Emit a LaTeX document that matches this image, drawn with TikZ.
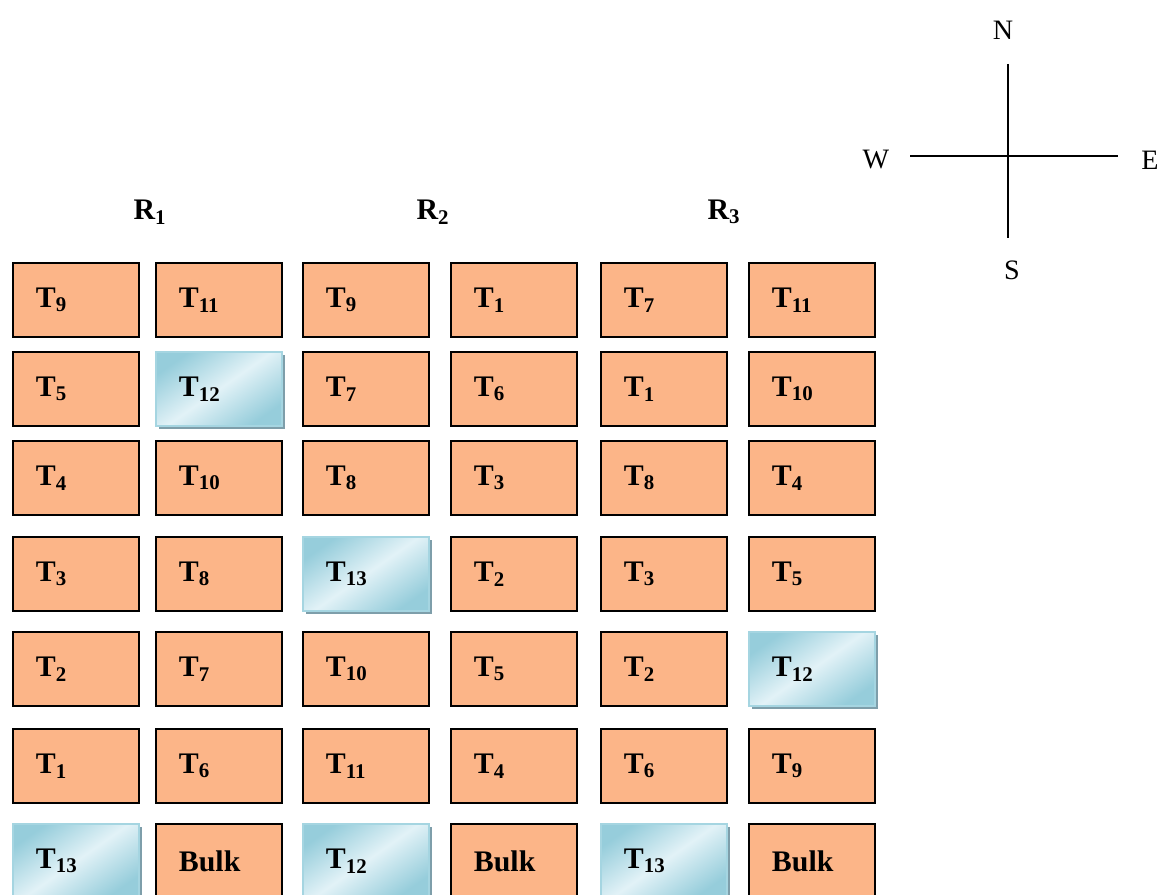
\documentclass[tikz,border=0pt]{standalone}
\usepackage{fontspec}
\setmainfont{Liberation Serif}
\definecolor{peach}{RGB}{252,181,136}
\definecolor{glassdark}{RGB}{150,205,219}
\definecolor{glasslight}{RGB}{226,242,247}
\definecolor{glassedge}{RGB}{165,213,225}
\definecolor{glassshade}{RGB}{126,158,170}
\newcommand{\tk}[1]{T\textsubscript{#1}}
\newcommand{\colx}[1]{\ifcase#1\or12\or155\or302\or450\or600\or748\fi}
\tikzset{
    cell/.style={anchor=north west, minimum width=2.52cm, minimum height=1.48cm,
        text width=1.6cm, inner xsep=0.46cm, align=left,
        font=\fontsize{17}{20}\selectfont\bfseries},
    tile/.style={cell, draw=black, line width=1.1pt, fill=peach},
    glass/.style={cell, draw=glassedge, line width=1.1pt,
        preaction={fill=glassshade, transform canvas={shift={(0.07cm,-0.07cm)}}},
        top color=glassdark, bottom color=glassdark, middle color=glasslight, shading angle=35},
    compass/.style={font=\fontsize{16}{18}\selectfont},
}
\begin{document}
\begin{tikzpicture}[x=0.02cm, y=-0.02cm]
        \useasboundingbox (0,0) rectangle (1162,895);
        \begin{scope}
        \clip (0,0) rectangle (1162,895);
        % racks, one loop per row
        \foreach \t/\s [count=\c] in {\tk{9}/tile,\tk{11}/tile,\tk{9}/tile,\tk{1}/tile,\tk{7}/tile,\tk{11}/tile}
            {\edef\px{\colx{\c}} \node[\s] (r1c\c) at (\px,262) {\t};}
        \foreach \t/\s [count=\c] in {\tk{5}/tile,\tk{12}/glass,\tk{7}/tile,\tk{6}/tile,\tk{1}/tile,\tk{10}/tile}
            {\edef\px{\colx{\c}} \node[\s] (r2c\c) at (\px,351) {\t};}
        \foreach \t/\s [count=\c] in {\tk{4}/tile,\tk{10}/tile,\tk{8}/tile,\tk{3}/tile,\tk{8}/tile,\tk{4}/tile}
            {\edef\px{\colx{\c}} \node[\s] (r3c\c) at (\px,440) {\t};}
        \foreach \t/\s [count=\c] in {\tk{3}/tile,\tk{8}/tile,\tk{13}/glass,\tk{2}/tile,\tk{3}/tile,\tk{5}/tile}
            {\edef\px{\colx{\c}} \node[\s] (r4c\c) at (\px,536) {\t};}
        \foreach \t/\s [count=\c] in {\tk{2}/tile,\tk{7}/tile,\tk{10}/tile,\tk{5}/tile,\tk{2}/tile,\tk{12}/glass}
            {\edef\px{\colx{\c}} \node[\s] (r5c\c) at (\px,631) {\t};}
        \foreach \t/\s [count=\c] in {\tk{1}/tile,\tk{6}/tile,\tk{11}/tile,\tk{4}/tile,\tk{6}/tile,\tk{9}/tile}
            {\edef\px{\colx{\c}} \node[\s] (r6c\c) at (\px,728) {\t};}
        \foreach \t/\s [count=\c] in {\tk{13}/glass,Bulk/tile,\tk{12}/glass,Bulk/tile,\tk{13}/glass,Bulk/tile}
            {\edef\px{\colx{\c}} \node[\s] (r7c\c) at (\px,823) {\t};}
        \end{scope}
        \foreach \x/\n in {150/1,433/2,724/3}
            \node[font=\fontsize{17}{20}\selectfont\bfseries] (rack\n) at (\x,212) {R\textsubscript{\n}};
        % compass
        \coordinate (north) at (1008,64);
        \coordinate (south) at (1008,238);
        \coordinate (west) at (910,156);
        \coordinate (east) at (1118,156);
        \draw[line width=0.9pt] (north) -- (south);
        \draw[line width=0.9pt] (west) -- (east);
        \node[compass] (N) at (1003,30) {N};
        \node[compass] (S) at (1012,270) {S};
        \node[compass] (W) at (876,160) {W};
        \node[compass] (E) at (1150,160) {E};
    \end{tikzpicture}
\end{document}
